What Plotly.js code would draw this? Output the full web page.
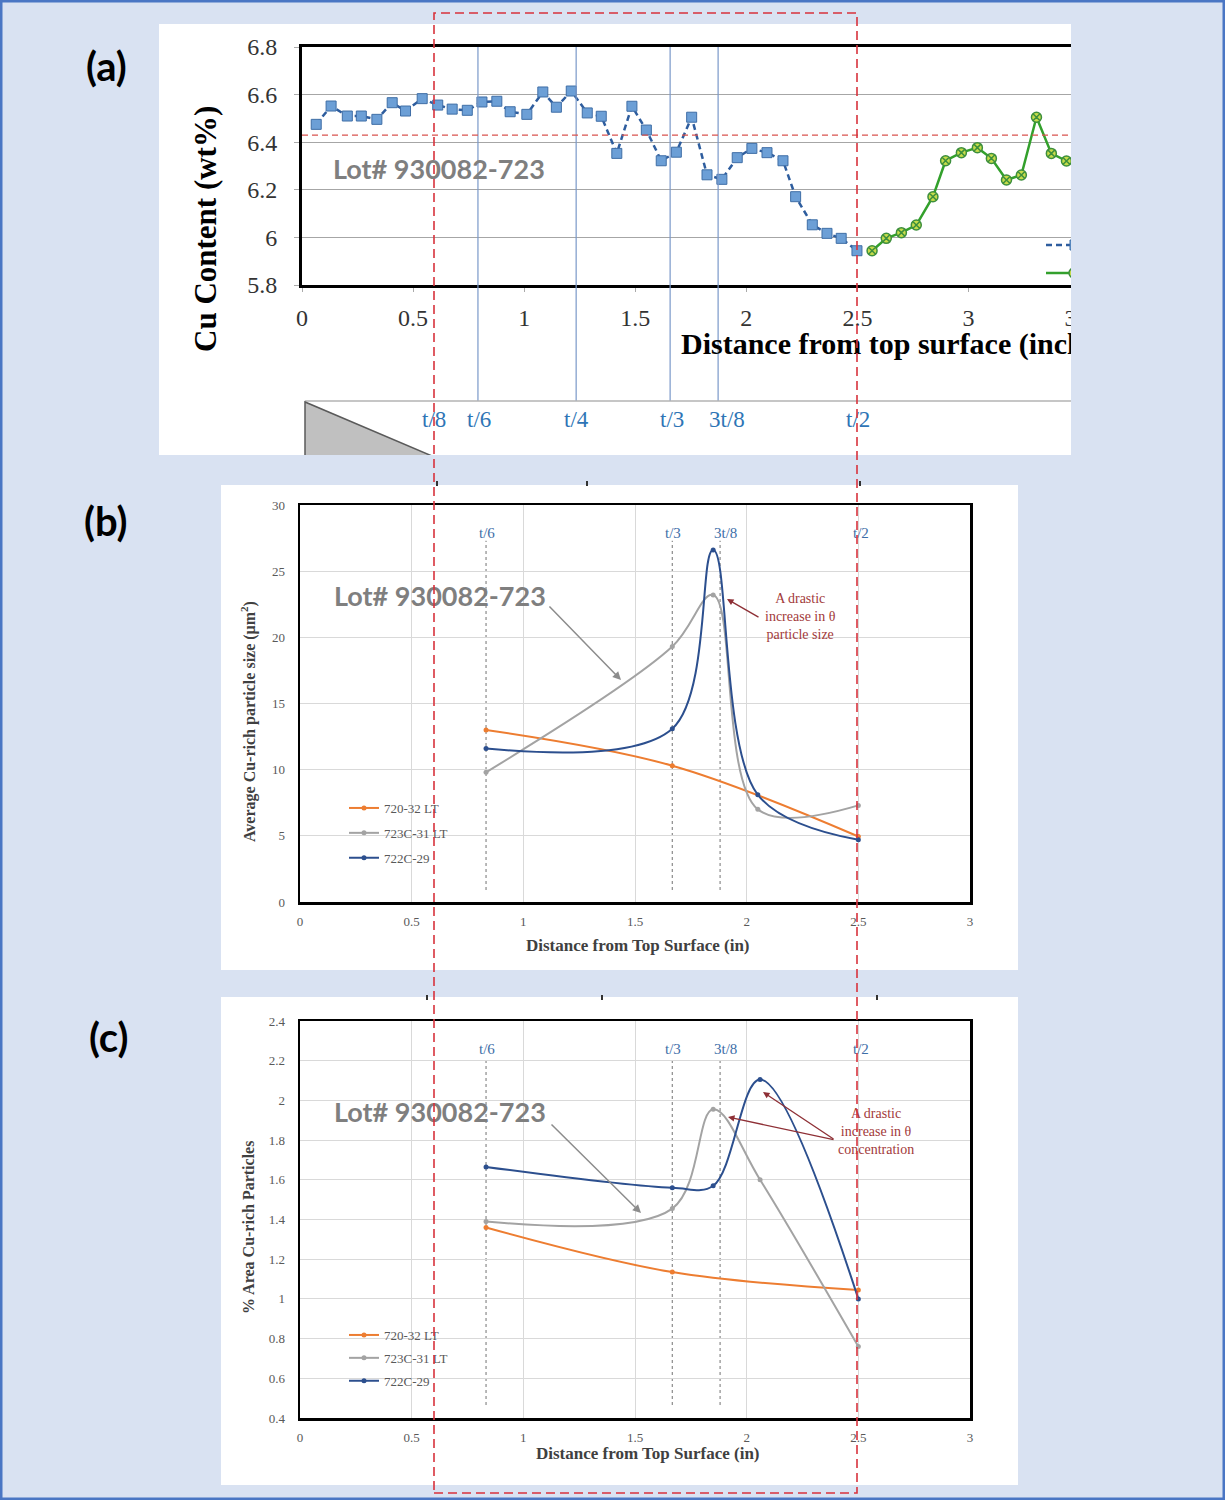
<!DOCTYPE html>
<html><head><meta charset="utf-8">
<script src="https://cdn.plot.ly/plotly-3.0.1.min.js"></script>
<style>
html,body{margin:0;padding:0;}
body{width:1225px;height:1500px;position:relative;background:#d9e2f2;overflow:hidden;}
.panel{position:absolute;background:#fff;overflow:hidden;}
#pa{left:159px;top:24px;width:912px;height:431px;}
#pb{left:221px;top:485px;width:797px;height:485px;}
#pc{left:221px;top:997px;width:797px;height:488px;}
#overlay{position:absolute;left:0;top:0;width:1225px;height:1500px;pointer-events:none;z-index:10;}
</style></head><body>
<div id="pa" class="panel"><div id="chartA"></div></div>
<div id="pb" class="panel"><div id="chartB"></div></div>
<div id="pc" class="panel"><div id="chartC"></div></div>
<div id="overlay"></div>
<script>
// ================= DATA =================
// Panel (a): Cu content vs distance from top surface
const aBlueX = [0.064,0.131,0.204,0.267,0.337,0.406,0.466,0.541,0.611,0.676,0.744,0.810,0.877,0.937,1.012,1.084,1.145,1.212,1.284,1.347,1.417,1.485,1.550,1.617,1.685,1.754,1.823,1.890,1.959,2.025,2.093,2.165,2.222,2.297,2.363,2.427,2.498];
const aBlueY = [6.475,6.552,6.510,6.510,6.496,6.566,6.531,6.583,6.556,6.539,6.534,6.569,6.572,6.528,6.517,6.611,6.547,6.615,6.523,6.509,6.353,6.551,6.451,6.322,6.358,6.505,6.263,6.244,6.335,6.374,6.356,6.322,6.171,6.053,6.017,5.996,5.944];
const aGreenX = [2.566,2.630,2.698,2.765,2.840,2.897,2.968,3.040,3.103,3.171,3.238,3.306,3.373,3.441];
const aGreenY = [5.944,5.996,6.020,6.052,6.171,6.322,6.356,6.377,6.332,6.241,6.262,6.505,6.353,6.321];
const aRefLevel = 6.43;
const aTLineX = [0.792,1.234,1.657,1.873];
const aTLabels = ['t/8','t/6','t/4','t/3','3t/8','t/2'];
const aTLabelX = [0.592,0.797,1.234,1.666,1.914,2.503];
const lotLabel = 'Lot# 930082-723';

// Panels (b) and (c): three lots
const seriesNames = ['720-32 LT','723C-31 LT','722C-29'];
const bcTLineX = [0.833,1.667,1.881];
const bcTLabels = ['t/6','t/3','3t/8','t/2'];
const bcTLabelX = [0.836,1.668,1.903,2.51];

const bOrangeX = [0.833,1.667,2.5];
const bOrangeY = [13.0,10.3,4.95];
const bGrayX = [0.833,1.667,1.85,2.05,2.5];
const bGrayY = [9.8,19.3,23.2,7.0,7.3];
const bBlueX = [0.833,1.667,1.85,2.05,2.5];
const bBlueY = [11.6,13.1,26.6,8.1,4.7];

const cOrangeX = [0.833,1.667,2.5];
const cOrangeY = [1.36,1.135,1.045];
const cGrayX = [0.833,1.667,1.85,2.06,2.5];
const cGrayY = [1.39,1.455,1.955,1.60,0.76];
const cBlueX = [0.833,1.667,1.85,2.06,2.5];
const cBlueY = [1.665,1.56,1.57,2.105,1.0];

// ================= STYLE =================
const SERIF = 'Liberation Serif, Times New Roman, serif';
const SANS = 'Lato, Open Sans, sans-serif';
const COL = {orange:'#ed7d31', gray:'#a3a3a3', blue:'#2c4f8e', tblue:'#3d6ea8', red:'#a23a3a'};
const cfg = {staticPlot:true, displayModeBar:false};
const C = {xanchor:'center', yanchor:'middle', showarrow:false};

// ---------- Panel (a) ----------
(function(){
  const L=302, T=47, W=822, H=238, B=T+H; // absolute page px of plot area
  const pa = (X,Y)=>({x:(X-L)/W, y:(B-Y)/H});
  const traces = [
    {x:aBlueX, y:aBlueY, mode:'lines+markers', showlegend:false,
     line:{color:'#2e5d9e', width:2.5, dash:'6px,4px'},
     marker:{symbol:'square', size:10, color:'#6c9fd6', line:{color:'#3f6ea6', width:1}}},
    {x:aGreenX, y:aGreenY, mode:'lines+markers', showlegend:false,
     line:{color:'#33a02c', width:2.5},
     marker:{symbol:'circle-x', size:10, color:'#c6dc4a', line:{color:'#3d8f3d', width:1.5}}}
  ];
  const shapes = [];
  aTLineX.forEach(x=>shapes.push({type:'line', xref:'x', yref:'paper', x0:x, x1:x, y0:pa(0,401).y, y1:1, line:{color:'#7a98c9', width:1.2}, layer:'above'}));
  shapes.push({type:'line', xref:'paper', yref:'y', x0:0, x1:1, y0:aRefLevel, y1:aRefLevel, line:{color:'#d9534f', width:1.2, dash:'6px,4px'}});
  const s0=pa(305,401), s1=pa(1130,401);
  shapes.push({type:'line', xref:'paper', yref:'paper', x0:s0.x, x1:s1.x, y0:s0.y, y1:s0.y, line:{color:'#b3b3b3', width:1.5}});
  const t1=pa(305,402), t2=pa(305,456), t3=pa(432,456);
  shapes.push({type:'path', xref:'paper', yref:'paper', path:`M${t1.x},${t1.y} L${t2.x},${t2.y} L${t3.x},${t3.y} Z`, fillcolor:'#c0c0c0', line:{color:'#5a5a5a', width:1.5}});
  // partially visible legend keys (cut off at the panel edge)
  const l1a=pa(1046,245), l1b=pa(1080,245), l2a=pa(1046,273), l2b=pa(1080,273);
  shapes.push({type:'line', xref:'paper', yref:'paper', x0:l1a.x, x1:l1b.x, y0:l1a.y, y1:l1a.y, line:{color:'#2e5d9e', width:2.5, dash:'6px,4px'}});
  shapes.push({type:'line', xref:'paper', yref:'paper', x0:l2a.x, x1:l2b.x, y0:l2a.y, y1:l2a.y, line:{color:'#33a02c', width:2.5}});
  const m1a=pa(1070,240), m1b=pa(1080,250);
  shapes.push({type:'rect', xref:'paper', yref:'paper', x0:m1a.x, x1:m1b.x, y0:m1b.y, y1:m1a.y, fillcolor:'#6c9fd6', line:{color:'#3f6ea6', width:1}});
  const m2a=pa(1069,268), m2b=pa(1079,278);
  shapes.push({type:'circle', xref:'paper', yref:'paper', x0:m2a.x, x1:m2b.x, y0:m2b.y, y1:m2a.y, fillcolor:'#c6dc4a', line:{color:'#3d8f3d', width:1.5}});

  const ann = [];
  aTLabels.forEach((t,i)=>ann.push(Object.assign({}, C, {xref:'x', yref:'paper', x:aTLabelX[i], y:pa(0,419).y, text:t, font:{family:SERIF, size:23, color:'#2e75b6'}})));
  const lp = pa(439,168);
  ann.push(Object.assign({}, C, {xref:'paper', yref:'paper', x:lp.x, y:lp.y, text:'<b>'+lotLabel+'</b>', font:{family:SANS, size:27, color:'#7f7f7f'}}));
  const yt = pa(205,229);
  ann.push(Object.assign({}, C, {xref:'paper', yref:'paper', x:yt.x, y:yt.y, text:'<b>Cu Content (wt%)</b>', textangle:-90, font:{family:SERIF, size:31, color:'#000'}}));
  const xt = pa(679,344);
  ann.push(Object.assign({}, C, {xref:'paper', yref:'paper', x:xt.x, y:xt.y, xanchor:'left', text:'<b>Distance from top surface (inches)</b>', font:{family:SERIF, size:30, color:'#000'}}));

  const layout = {
    width:1000, height:431, margin:{l:L-159, r:1000-(L-159)-W, t:T-24, b:431-(T-24)-H},
    paper_bgcolor:'#fff', plot_bgcolor:'#fff', showlegend:false,
    xaxis:{range:[0,3.7], tick0:0, dtick:0.5, showgrid:false, zeroline:false, showline:true, mirror:true, linecolor:'#000', linewidth:3,
           ticks:'outside', ticklen:4, tickcolor:'#aaaaaa', ticklabelstandoff:5, tickfont:{family:SERIF, size:24, color:'#333'}},
    yaxis:{range:[5.8,6.8], tick0:5.8, dtick:0.2, showgrid:true, gridcolor:'#a6a6a6', gridwidth:1.3, zeroline:false, showline:true, mirror:true, linecolor:'#000', linewidth:3,
           ticks:'outside', ticklen:5, tickcolor:'#aaaaaa', ticklabelstandoff:12, tickfont:{family:SERIF, size:24, color:'#333'}},
    shapes:shapes, annotations:ann
  };
  Plotly.newPlot('chartA', traces, layout, cfg);
})();

// ---------- Panels (b) and (c) ----------
function makeBC(divId, box, yRange, yDtick, data, tLineY, yTitle, lotPos, lotArrow, redText, redPos, redArrows, xTitlePos, yTitlePos, legendTop, legendGap){
  const {L,T,R,B,divL,divT,divW,divH} = box;
  const W=R-L, H=B-T;
  const pp = (X,Y)=>({x:(X-L)/W, y:(B-Y)/H});
  const colors=[COL.orange, COL.gray, COL.blue];
  const traces = data.map((d,i)=>({x:d[0], y:d[1], name:seriesNames[i], legendgroup:'g'+i, mode:'lines+markers',
      line:{shape:'spline', smoothing:1, color:colors[i], width:2}, marker:{size:5, color:colors[i]}}));
  const shapes = bcTLineX.map(x=>({type:'line', xref:'x', yref:'y', x0:x, x1:x, y0:tLineY[0], y1:tLineY[1], line:{color:'#8a8a8a', width:1.2, dash:'dot'}, layer:'below'}));
  const ann = [];
  bcTLabels.forEach((t,i)=>ann.push(Object.assign({}, C, {xref:'x', yref:'paper', x:bcTLabelX[i], y:pp(0,T+28).y, text:t, font:{family:SERIF, size:15, color:COL.tblue}})));
  const lp = pp(lotPos[0], lotPos[1]);
  ann.push(Object.assign({}, C, {xref:'paper', yref:'paper', x:lp.x, y:lp.y, text:'<b>'+lotLabel+'</b>', font:{family:SANS, size:27, color:'#7f7f7f'}}));
  const ah = pp(lotArrow[2], lotArrow[3]);
  ann.push({xref:'paper', yref:'paper', x:ah.x, y:ah.y, ax:lotArrow[0]-lotArrow[2], ay:lotArrow[1]-lotArrow[3], text:'', showarrow:true, arrowhead:2, arrowsize:1.1, arrowwidth:1.5, arrowcolor:'#8c8c8c', standoff:0});
  const rp = pp(redPos[0], redPos[1]);
  ann.push(Object.assign({}, C, {xref:'paper', yref:'paper', x:rp.x, y:rp.y, text:redText, align:'center', font:{family:SERIF, size:14, color:COL.red}}));
  redArrows.forEach(a=>{const h=pp(a[2],a[3]); ann.push({xref:'paper', yref:'paper', x:h.x, y:h.y, ax:a[0]-a[2], ay:a[1]-a[3], text:'', showarrow:true, arrowhead:2, arrowsize:1, arrowwidth:1.3, arrowcolor:'#8e2f35', standoff:0});});
  const xt = pp(xTitlePos[0], xTitlePos[1]);
  ann.push(Object.assign({}, C, {xref:'paper', yref:'paper', x:xt.x, y:xt.y, text:'<b>Distance from Top Surface (in)</b>', font:{family:SERIF, size:17, color:'#404040'}}));
  const yt = pp(yTitlePos[0], yTitlePos[1]);
  ann.push(Object.assign({}, C, {xref:'paper', yref:'paper', x:yt.x, y:yt.y, text:yTitle, textangle:-90, font:{family:SERIF, size:16, color:'#404040'}}));
  const lg = pp(344, legendTop);
  const axBase = {showgrid:true, gridcolor:'#d9d9d9', gridwidth:1, zeroline:false, showline:true, mirror:true, linecolor:'#000', linewidth:2.5, ticks:'', tickfont:{family:SERIF, size:13, color:'#595959'}};
  const layout = {
    width:divW, height:divH, margin:{l:L-divL, r:divW-(R-divL), t:T-divT, b:divH-(B-divT)},
    paper_bgcolor:'#fff', plot_bgcolor:'#fff', showlegend:true,
    legend:{x:lg.x, y:lg.y, xanchor:'left', yanchor:'top', bgcolor:'rgba(0,0,0,0)', traceorder:'grouped', tracegroupgap:legendGap, font:{family:SERIF, size:13, color:'#595959'}},
    xaxis:Object.assign({}, axBase, {range:[0,3], tick0:0, dtick:0.5, ticklabelstandoff:6}),
    yaxis:Object.assign({}, axBase, {range:yRange, tick0:yRange[0], dtick:yDtick, ticklabelstandoff:10}),
    shapes:shapes, annotations:ann
  };
  Plotly.newPlot(divId, traces, layout, cfg);
}

makeBC('chartB', {L:300,T:505,R:970,B:902,divL:221,divT:485,divW:797,divH:485}, [0,30], 5,
  [[bOrangeX,bOrangeY],[bGrayX,bGrayY],[bBlueX,bBlueY]], [0.9,27.3],
  '<b>Average Cu-rich particle size (μm<sup>2</sup>)</b>',
  [440,595], [548,605,621,680],
  'A drastic<br>increase in θ<br>particle size', [800,616], [[760,618,727,599]],
  [638,945], [248,722], 793, 5);

makeBC('chartC', {L:300,T:1021,R:970,B:1418,divL:221,divT:997,divW:797,divH:488}, [0.4,2.4], 0.2,
  [[cOrangeX,cOrangeY],[cGrayX,cGrayY],[cBlueX,cBlueY]], [0.465,2.214],
  '<b>% Area Cu-rich Particles</b>',
  [440,1112], [550,1123,641,1213],
  'A drastic<br>increase in θ<br>concentration', [876,1131], [[835,1140,728,1117],[835,1140,763,1092]],
  [648,1453], [248,1228], 1320, 3);

// ---------- Overlay: panel labels, page border, red dashed frame ----------
(function(){
  const op = (X,Y)=>({x:X/1225, y:1-Y/1500});
  const shapes = [];
  shapes.push({type:'rect', xref:'paper', yref:'paper', x0:0, x1:1, y0:0, y1:1, line:{color:'#4a76c4', width:5}});
  const r0=op(434,13), r1=op(857,1493);
  shapes.push({type:'rect', xref:'paper', yref:'paper', x0:r0.x, x1:r1.x, y0:r1.y, y1:r0.y, line:{color:'#d8323c', width:1.6, dash:'9px,5px'}});
  [[437,481],[587,481],[860,481],[427,995],[602,995],[877,995]].forEach(p=>{const a=op(p[0],p[1]), b=op(p[0],p[1]+5); shapes.push({type:'line', xref:'paper', yref:'paper', x0:a.x, x1:b.x, y0:a.y, y1:b.y, line:{color:'#333', width:2}});});
  const ann = [['(a)',106,66],['(b)',106,521],['(c)',108,1037]].map(l=>{const p=op(l[1],l[2]); return Object.assign({}, C, {xref:'paper', yref:'paper', x:p.x, y:p.y, text:'<b>'+l[0]+'</b>', font:{family:SANS, size:40, color:'#000'}});});
  const layout = {width:1225, height:1500, margin:{l:0,r:0,t:0,b:0}, paper_bgcolor:'rgba(0,0,0,0)', plot_bgcolor:'rgba(0,0,0,0)',
    xaxis:{visible:false, range:[0,1]}, yaxis:{visible:false, range:[0,1]}, showlegend:false, shapes:shapes, annotations:ann};
  Plotly.newPlot('overlay', [], layout, cfg);
})();
</script>
</body></html>
